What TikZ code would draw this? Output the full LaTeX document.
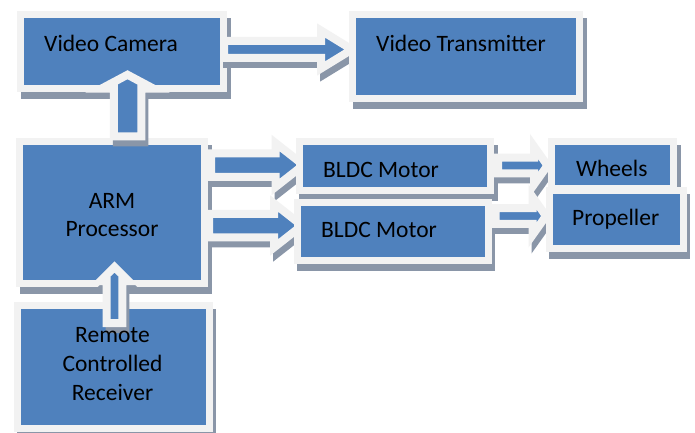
\documentclass[tikz,border=0pt]{standalone}
\usepackage{fontspec}
\setmainfont{Carlito}
\usetikzlibrary{calc}

\definecolor{boxblue}{RGB}{79,129,189}
\definecolor{rimgray}{RGB}{242,242,242}
\definecolor{shadegray}{RGB}{138,150,168}

\tikzset{
  blockbox/.style={rectangle, fill=boxblue, draw=rimgray, line width=7pt,
    inner sep=0pt, outer sep=0pt,
    preaction={fill=shadegray, draw=shadegray, line width=7pt,
      transform canvas={shift={(3.5pt,-7pt)}}}},
  fatarrow/.style={fill=boxblue, draw=rimgray, line width=8pt,
    line join=miter, miter limit=20,
    preaction={fill=shadegray, draw=shadegray, line width=8pt,
      line join=miter, miter limit=20,
      transform canvas={shift={(3pt,-6pt)}}}},
  caption/.style={inner sep=0pt, text=black,
    font=\fontsize{23.5}{28.75}\selectfont},
}

% block arrow from #1 to tip #2: body half width #3, head half width #4, head length #5
\newcommand\blockarrow[5]{%
  \coordinate (ba-base) at ($(#2)!#5!(#1)$);
  \draw[fatarrow]
    ($(#1)!#3!90:(#2)$) -- ($(ba-base)!#3!90:(#2)$) -- ($(ba-base)!#4!90:(#2)$)
    -- (#2)
    -- ($(ba-base)!#4!-90:(#2)$) -- ($(ba-base)!#3!-90:(#2)$) -- ($(#1)!#3!-90:(#2)$)
    -- cycle;}

\begin{document}
\begin{tikzpicture}[x=1pt, y=-1pt]
  \fill[white] (0,0) rectangle (695,433);
  \useasboundingbox (0,0) rectangle (695,433);

  % left column
  \node[blockbox, minimum width=203pt, minimum height=74pt] (cam) at (122,51.5) {};
  \node[blockbox, minimum width=185pt, minimum height=141.75pt] (arm) at (112,212.6) {};
  \node[blockbox, minimum width=192pt, minimum height=123pt] (rc) at (113,367) {};

  % vertical arrows
  \coordinate (arm-up) at ($(arm.north)+(15.5,-5.25)$);
  \coordinate (cam-in) at ($(cam.south)+(5.5,-13.75)$);
  \blockarrow{arm-up}{cam-in}{13.75pt}{26.3pt}{14pt}
  \coordinate (rc-up) at ($(rc.north)+(1.5,17.5)$);
  \coordinate (arm-in) at ($(arm.south)+(2.5,-16.5)$);
  \blockarrow{rc-up}{arm-in}{7.9pt}{14.25pt}{14.25pt}

  % camera to transmitter
  \node[blockbox, minimum width=227pt, minimum height=84pt] (tx) at (466,56.5) {};
  \coordinate (cam-out) at ($(cam.east)+(0.5,-2)$);
  \coordinate (tx-in) at ($(tx.west)+(-0.5,-7)$);
  \blockarrow{cam-out}{tx-in}{8.5pt}{19pt}{31pt}
  \node[blockbox, minimum width=227pt, minimum height=84pt] at (tx) {};

  % processor to motors
  \node[blockbox, minimum width=191.5pt, minimum height=49.5pt] (m1) at (394.75,165.75) {};
  \coordinate (arm-out1) at ($(arm.east)+(6.5,-47.6)$);
  \coordinate (m1-in) at ($(m1.west)+(4.5,-0.75)$);
  \blockarrow{arm-out1}{m1-in}{11.75pt}{22pt}{28pt}
  \node[blockbox, minimum width=191.5pt, minimum height=49.5pt] at (m1) {};

  \node[blockbox, minimum width=191pt, minimum height=58.5pt] (m2) at (392.5,231.25) {};
  \coordinate (arm-out2) at ($(arm.east)+(4.5,12.9)$);
  \coordinate (m2-in) at ($(m2.west)+(5,-5.75)$);
  \blockarrow{arm-out2}{m2-in}{11.75pt}{22pt}{28pt}
  \node[blockbox, minimum width=191pt, minimum height=58.5pt] at (m2) {};

  % motors to wheels and propeller
  \node[blockbox, minimum width=122pt, minimum height=47pt] (wh) at (612.5,165) {};
  \coordinate (m1-out) at ($(m1.east)+(7.5,-0.25)$);
  \coordinate (wh-in) at ($(wh.west)+(-4,0.5)$);
  \blockarrow{m1-out}{wh-in}{7.9pt}{19pt}{13.5pt}
  \node[blockbox, minimum width=122pt, minimum height=47pt] at (wh) {};

  \node[blockbox, minimum width=134pt, minimum height=58pt] (pr) at (616,219.5) {};
  \coordinate (m2-out) at ($(m2.east)+(7.5,-15.25)$);
  \coordinate (pr-in) at ($(pr.west)+(-3,-3.5)$);
  \blockarrow{m2-out}{pr-in}{7.9pt}{19pt}{13.5pt}
  \node[blockbox, minimum width=134pt, minimum height=58pt] at (pr) {};

  % captions
  \node[caption, anchor=base west] (cam-text) at (44,52) {Video Camera};
  \node[caption, anchor=base west] (tx-text) at (376,52) {Video Transmitter};
  \node[caption, align=center] (arm-text) at (112,215) {ARM\\Processor};
  \node[caption, align=center] (rc-text) at (112.5,364) {Remote\\Controlled\\Receiver};
  \node[caption, anchor=base west] (m1-text) at (323,177) {BLDC Motor};
  \node[caption, anchor=base west] (m2-text) at (321,237) {BLDC Motor};
  \node[caption, anchor=base west] (wh-text) at (576,176) {Wheels};
  \node[caption, anchor=base west] (pr-text) at (572,225) {Propeller};
\end{tikzpicture}
\end{document}
